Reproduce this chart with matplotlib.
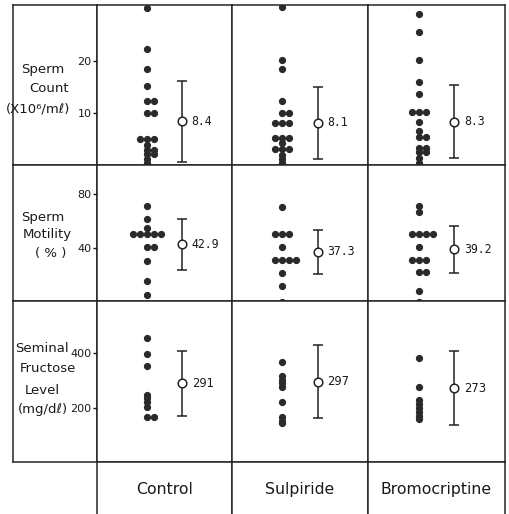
import numpy as np
import matplotlib
matplotlib.use("Agg")
import matplotlib.pyplot as plt

# groups (columns)
groups = ["Control", "Sulpiride", "Bromocriptine"]

# individual values read per group, one list per measure
count_control = [30.2, 22.3, 18.4, 15.1, 12.2, 12.2, 10.0, 10.0, 5.0, 5.0, 5.0,
                 3.8, 2.9, 2.9, 2.1, 2.1, 1.2, 0.4]
count_sulpiride = [30.4, 20.2, 18.4, 12.2, 10.0, 10.0, 8.0, 8.0, 8.0, 5.2, 5.2, 5.2,
                   4.2, 3.0, 3.0, 3.0, 2.0, 1.2, 0.4]
count_bromo = [29.0, 25.6, 20.2, 15.9, 13.7, 10.1, 10.1, 10.1, 8.2, 6.5, 5.4, 5.4,
               3.2, 3.2, 2.4, 2.4, 1.4, 0.4]

motility_control = [71.6, 61.7, 54.8, 50.4, 50.4, 50.4, 50.4, 50.4, 40.7, 40.7,
                    30.8, 15.8, 5.4]
motility_sulpiride = [70.8, 50.6, 50.6, 50.6, 41.2, 31.3, 31.3, 31.3, 31.3, 21.5,
                      12.3, 0.5]
motility_bromo = [71.6, 67.1, 50.6, 50.6, 50.6, 50.6, 40.7, 31.3, 31.3, 31.3,
                  22.7, 22.7, 8.4, 0.5]

fructose_control = [457, 396, 354, 248, 236, 222, 206, 167, 167]
fructose_sulpiride = [367, 319, 303, 291, 276, 222, 167, 155, 145]
fructose_bromo = [382, 276, 230, 216, 200, 188, 172, 161]

# group means and SDs printed beside the bars
count_mean = [8.4, 8.1, 8.3]
count_sd = [7.8, 6.9, 7.05]
motility_mean = [42.9, 37.3, 39.2]
motility_sd = [19.0, 16.4, 17.4]
fructose_mean = [291, 297, 273]
fructose_sd = [119, 133, 135]

count_ticks = [10, 20]
motility_ticks = [40, 80]
fructose_ticks = [200, 400]

rows = [
    dict(values=[count_control, count_sulpiride, count_bromo],
         mean=count_mean, sd=count_sd, ticks=count_ticks, ylim=(0, 30.8),
         fmt="{:.1f}", mono=True,
         label=[("Sperm", 43, 70), ("Count", 49, 88), ("(X10\u2076/m\u2113)", 38, 109)]),
    dict(values=[motility_control, motility_sulpiride, motility_bromo],
         mean=motility_mean, sd=motility_sd, ticks=motility_ticks, ylim=(1, 101.7),
         fmt="{:.1f}", mono=True,
         label=[("Sperm", 43, 217), ("Motility", 47.5, 235), ("( % )", 51, 254)]),
    dict(values=[fructose_control, fructose_sulpiride, fructose_bromo],
         mean=fructose_mean, sd=fructose_sd, ticks=fructose_ticks, ylim=(5, 590),
         fmt="{:.0f}", mono=False,
         label=[("Seminal", 42, 349), ("Fructose", 48, 369), ("Level", 42.5, 391),
                ("(mg/d\u2113)", 43, 410)]),
]

W, H = 510, 514
xe = [13, 97, 232, 368, 505]
ye = [4.5, 165, 301, 462, 520]
LINE = "#262626"
LW = 1.1

fig = plt.figure(figsize=(W / 100, H / 100), dpi=100)


def cell(x0, x1, y0, y1):
    return fig.add_axes([x0 / W, 1 - y1 / H, (x1 - x0) / W, (y1 - y0) / H])


def style(ax):
    ax.set_xticks([])
    ax.set_yticks([])
    for s in ax.spines.values():
        s.set_linewidth(LW)
        s.set_color(LINE)


DOT_X, BAR_X, STEP = -0.5, 0.5, 0.2

for r, row in enumerate(rows):
    y0, y1 = ye[r], ye[r + 1]
    lab = cell(xe[0], xe[1], y0, y1)
    style(lab)
    for txt, px, py in row["label"]:
        fig.text(px / W, 1 - py / H, txt, ha="center", va="center",
                 fontsize=9.5, color="#1a1a1a")

    for g in range(3):
        ax = cell(xe[g + 1], xe[g + 2], y0, y1)
        style(ax)
        ax.set_xlim(-1.93, 1.93)
        ax.set_ylim(*row["ylim"])

        # spread tied values sideways like a dot plot
        vals = np.array(row["values"][g])
        uniq, counts = np.unique(vals, return_counts=True)
        xs, ys = [], []
        for v, k in zip(uniq, counts):
            offs = np.arange(k) - (k - 1) // 2
            xs.extend(DOT_X + offs * STEP)
            ys.extend([v] * k)
        ax.plot(xs, ys, "o", ms=4.2, color="#2a2a2a", mec="#2a2a2a", zorder=3)

        m, sd = row["mean"][g], row["sd"][g]
        ax.errorbar([BAR_X], [m], yerr=[sd], fmt="o", ms=6.2, mfc="white",
                    mec="#222222", mew=1.1, ecolor="#222222", elinewidth=1.1,
                    capsize=3.6, capthick=1.1, zorder=4)
        family = "DejaVu Sans Mono" if row["mono"] else "DejaVu Sans"
        ax.annotate(row["fmt"].format(m), (BAR_X, m), xytext=(7, 0),
                    textcoords="offset points", va="center", ha="left",
                    fontsize=8.3, family=family, color="#1a1a1a")

        if g == 0:
            ax.set_yticks(row["ticks"])
            ax.set_yticklabels([str(t) for t in row["ticks"]])
            ax.tick_params(axis="y", direction="out", length=3, width=1,
                           pad=1, labelsize=8, colors="#1a1a1a")

# group names along the bottom
for g, name in enumerate(groups):
    ax = cell(xe[g + 1], xe[g + 2], ye[3], ye[4])
    style(ax)
    ax.spines["bottom"].set_visible(False)
    ax.text(0.5, 0.52, name, transform=ax.transAxes, ha="center", va="center",
            fontsize=11.3, color="#1a1a1a")

fig.savefig("out.png", dpi=100, facecolor="white")
